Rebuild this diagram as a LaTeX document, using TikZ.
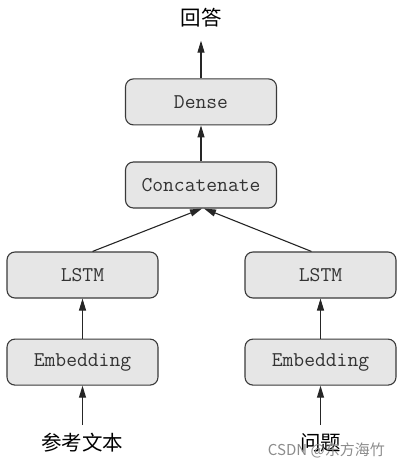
\documentclass[tikz,border=0pt]{standalone}
\usepackage{fontspec}
\newfontfamily\cjk{Noto Sans CJK SC}
\usetikzlibrary{arrows.meta, positioning}

\definecolor{boxfill}{HTML}{E6E6E6}
\definecolor{boxline}{HTML}{3A3A3A}

\begin{document}
\begin{tikzpicture}[x=1pt, y=-1pt, node distance=36pt,
  layer/.style={rectangle, rounded corners=8pt, draw=boxline, line width=1.1pt, fill=boxfill,
    minimum width=151pt, minimum height=46pt, inner sep=0pt,
    font=\ttfamily\fontsize{21}{21}\selectfont, text=black!80},
  label/.style={font=\cjk\fontsize{20.5}{20.5}\selectfont, inner sep=0pt},
  arrow/.style={-{Triangle[length=12pt,width=7pt]}, line width=1.1pt, draw=black!85}]
  \useasboundingbox (0,0) rectangle (400,469);

  % Layers
  \node (concat) [layer] at (201,185) {Concatenate};
  \node (dense) [layer, above=of concat] {Dense};
  \node (lstmA) [layer] at (82.5,275) {LSTM};
  \node (lstmB) [layer] at (320.5,275) {LSTM};
  \node (embA) [layer, below=40pt of lstmA] {Embedding};
  \node (embB) [layer, below=40pt of lstmB] {Embedding};

  % Inputs and output
  \node (answer) [label] at (201,18) {回答};
  \node (context) [label] at (82.5,443) {参考文本};
  \node (question) [label] at (320.5,443) {问题};
  \coordinate (inA) at (82.5,425);
  \coordinate (inB) at (320.5,425);
  \node (mark) [font=\cjk\fontsize{15}{15}\selectfont, text=black!45, anchor=east, inner sep=0pt] at (385,450) {CSDN @东方海竹};

  % Left branch
  \draw[arrow] (inA) -- (embA);
  \draw[arrow] (embA) -- (lstmA);
  \draw[arrow] ([xshift=10pt]lstmA.north) -- ([xshift=1pt]concat.south);

  % Right branch
  \draw[arrow] (inB) -- (embB);
  \draw[arrow] (embB) -- (lstmB);
  \draw[arrow] ([xshift=-9pt]lstmB.north) -- ([xshift=3pt]concat.south);

  % Top
  \draw[arrow] (concat) -- (dense);
  \draw[arrow] (dense) -- ([yshift=-13pt]answer.south);
\end{tikzpicture}
\end{document}
